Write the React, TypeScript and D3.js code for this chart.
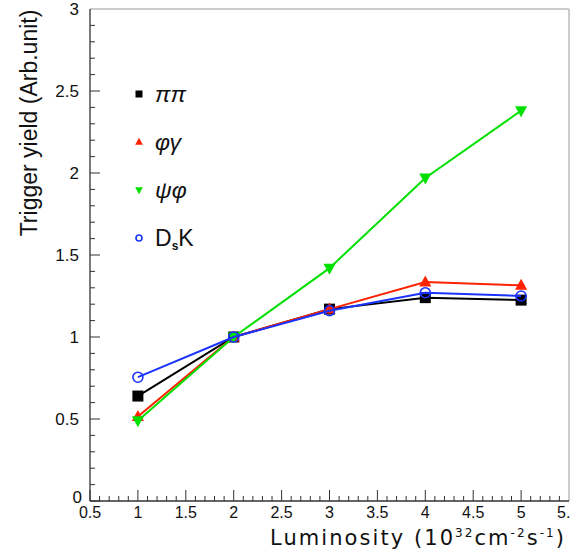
import React from 'react';
import * as d3 from 'd3';

const luminosity = [1, 2, 3, 4, 5];
const pipi = [0.64, 1.0, 1.17, 1.24, 1.225];
const phigamma = [0.515, 1.0, 1.17, 1.335, 1.315];
const psiphi = [0.49, 1.0, 1.42, 1.97, 2.38];
const dsk = [0.755, 1.0, 1.16, 1.27, 1.25];

const xTicks = [0.5, 1, 1.5, 2, 2.5, 3, 3.5, 4, 4.5, 5];
const yTicks = [0, 0.5, 1, 1.5, 2, 2.5, 3];

type Series = { name: string; values: number[]; color: string; marker: 'square' | 'up' | 'down' | 'circle' };

const series: Series[] = [
  { name: 'pipi', values: pipi, color: '#000000', marker: 'square' },
  { name: 'phigamma', values: phigamma, color: '#ff2200', marker: 'up' },
  { name: 'psiphi', values: psiphi, color: '#00e000', marker: 'down' },
  { name: 'dsk', values: dsk, color: '#1a33ff', marker: 'circle' },
];

const W = 571;
const H = 552;
const margin = { top: 9, right: 2, bottom: 51, left: 90 };

const Marker: React.FC<{ kind: Series['marker']; x: number; y: number; color: string; size: number }> = ({ kind, x, y, color, size }) => {
  const s = size;
  if (kind === 'square') return <rect x={x - s / 2} y={y - s / 2} width={s} height={s} fill={color} />;
  if (kind === 'up') return <path d={`M${x},${y - s * 0.6}L${x + s * 0.55},${y + s * 0.4}L${x - s * 0.55},${y + s * 0.4}Z`} fill={color} />;
  if (kind === 'down') return <path d={`M${x},${y + s * 0.6}L${x + s * 0.55},${y - s * 0.4}L${x - s * 0.55},${y - s * 0.4}Z`} fill={color} />;
  return <circle cx={x} cy={y} r={s / 2 - 0.5} fill="none" stroke={color} strokeWidth={1.6} />;
};

const App: React.FC = () => {
  const x = d3.scaleLinear().domain([0.5, 5.5]).range([margin.left, W - margin.right]);
  const y = d3.scaleLinear().domain([0, 3]).range([H - margin.bottom, margin.top]);
  const line = d3.line<number>().x((_, i) => x(luminosity[i])).y(d => y(d));

  const xMinor = d3.range(5, 55).map(v => v / 10);
  const yMinor = d3.range(0, 30).map(v => v / 10);
  const x0 = x(0.5), x1 = x(5.5), y0 = y(0), y1 = y(3);
  const tickFont = "'Liberation Sans', Arial, sans-serif";

  // legend rows
  const legendY = [94, 142, 190, 238];
  const legendLabels = [
    <tspan fontStyle="italic">ππ</tspan>,
    <tspan fontStyle="italic">φγ</tspan>,
    <tspan fontStyle="italic">ψφ</tspan>,
    <>D<tspan fontSize={12} dy={4} fontWeight="bold">s</tspan><tspan dy={-4}>K</tspan></>,
  ];

  return (
    <div style={{ position: 'fixed', left: 0, top: 0 }}>
      <svg width={W} height={H} style={{ display: 'block', background: '#fff' }}>
        {/* frame */}
        <line x1={x0} y1={y1} x2={x1} y2={y1} stroke="#bbbbbb" strokeWidth={1.5} />
        <line x1={x1} y1={y1} x2={x1} y2={y0} stroke="#bbbbbb" strokeWidth={1.5} />
        <line x1={x0} y1={y1} x2={x0} y2={y0} stroke="#333" strokeWidth={1.3} />
        <line x1={x0} y1={y0} x2={x1} y2={y0} stroke="#333" strokeWidth={1.3} />

        {/* ticks */}
        {xMinor.map((v, i) => {
          const major = Math.abs(v * 2 - Math.round(v * 2)) < 1e-6;
          return <line key={i} x1={x(v)} x2={x(v)} y1={y0} y2={y0 - (major ? 11 : 5)} stroke="#333" strokeWidth={1} />;
        })}
        {yMinor.map((v, i) => {
          const major = Math.abs(v * 2 - Math.round(v * 2)) < 1e-6;
          return <line key={i} x1={x0} x2={x0 + (major ? 10 : 5)} y1={y(v)} y2={y(v)} stroke="#333" strokeWidth={1} />;
        })}

        {/* tick labels */}
        {xTicks.map(v => (
          <text key={v} x={x(v)} y={y0 + 17} textAnchor="middle" fontFamily={tickFont} fontSize={16} fill="#111">{v}</text>
        ))}
        <text x={x(5.5) - 12} y={y0 + 17} fontFamily={tickFont} fontSize={16} fill="#111">5.</text>
        {yTicks.map(v => (
          <text key={v} x={v === 0 ? x0 - 8 : x0 - 11} y={y(v) + (v === 0 ? 2 : 6)} textAnchor="end" fontFamily={tickFont} fontSize={17} fill="#111">{v}</text>
        ))}

        {/* axis titles */}
        <text transform={`translate(37,123) rotate(-90)`} textAnchor="middle" fontFamily={tickFont} fontSize={23} fill="#111">Trigger yield (Arb.unit)</text>
        <text x={270} y={545} fontFamily="'DejaVu Sans', sans-serif" fontSize={21} fill="#111" textLength={294} lengthAdjust="spacing">
          Luminosity (10<tspan fontSize={12} dy={-8}>32</tspan><tspan dy={8}>cm</tspan><tspan fontSize={12} dy={-8}>-2</tspan><tspan dy={8}>s</tspan><tspan fontSize={12} dy={-8}>-1</tspan><tspan dy={8}>)</tspan>
        </text>

        {/* series */}
        {series.map(s => (
          <g key={s.name}>
            <path d={line(s.values) || ''} fill="none" stroke={s.color} strokeWidth={2} />
            {s.values.map((v, i) => (
              <Marker key={i} kind={s.marker} x={x(luminosity[i])} y={y(v)} color={s.color} size={11} />
            ))}
          </g>
        ))}

        {/* legend */}
        {series.map((s, i) => (
          <g key={s.name}>
            <Marker kind={s.marker} x={139} y={legendY[i]} color={s.color} size={7} />
            <text x={155} y={legendY[i] + 8} fontFamily={tickFont} fontSize={23} fill="#111">{legendLabels[i]}</text>
          </g>
        ))}
      </svg>
    </div>
  );
};

export default App;
